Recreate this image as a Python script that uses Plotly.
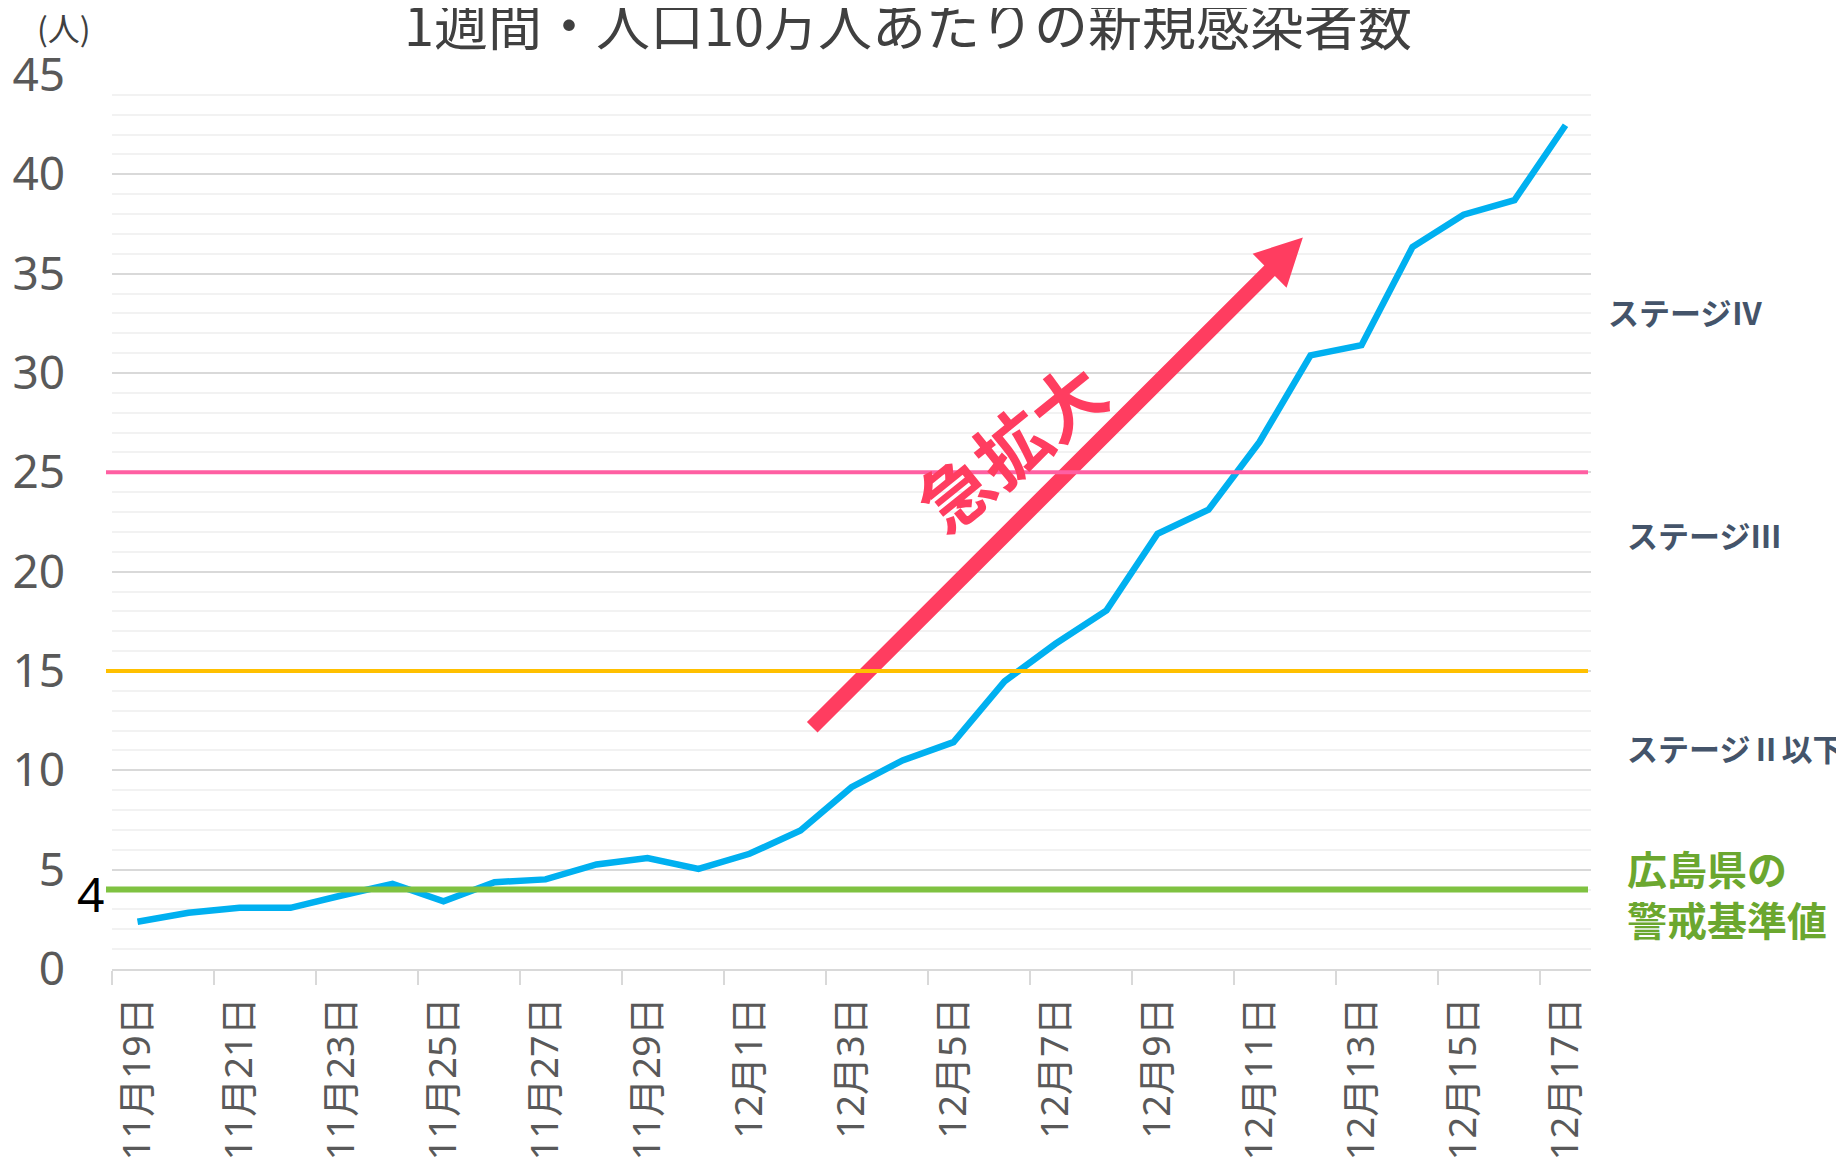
import math
import plotly.graph_objects as go

# ---------------- data ----------------
dates = ["11月19日", "11月20日", "11月21日", "11月22日", "11月23日", "11月24日",
         "11月25日", "11月26日", "11月27日", "11月28日", "11月29日", "11月30日",
         "12月1日", "12月2日", "12月3日", "12月4日", "12月5日", "12月6日",
         "12月7日", "12月8日", "12月9日", "12月10日", "12月11日", "12月12日",
         "12月13日", "12月14日", "12月15日", "12月16日", "12月17日"]
cases_per_100k = [2.38, 2.83, 3.08, 3.08, 3.70, 4.29, 3.41, 4.37, 4.51, 5.26,
                  5.58, 5.04, 5.80, 6.97, 9.15, 10.50, 11.42, 14.48, 16.37, 18.05,
                  21.91, 23.12, 26.53, 30.89, 31.40, 36.34, 37.97, 38.70, 42.47]
y_ticks = [0, 5, 10, 15, 20, 25, 30, 35, 40, 45]
thresholds = [25, 15, 4]
threshold_colors = ["#FF5FA2", "#FFC000", "#7FC241"]
threshold_widths = [4, 4, 6]
stage_labels = ["ステージⅣ", "ステージⅢ", "ステージⅡ以下"]
alert_labels = ["広島県の", "警戒基準値"]
title_text = "1週間・人口10万人あたりの新規感染者数"
arrow_text = "急拡大"
# arrow from (category index, value) to (category index, value)
arrow_start = (13.23, 12.17)
arrow_end = (22.85, 36.82)

# ---------------- layout geometry ----------------
OFF = 8                      # page body margin of the html page
W, H = 1844 - OFF, 1162 - OFF
L, R, T, B = 104, 253, 67, 193
PW, PH = W - L - R, H - T - B
X_RANGE = [-0.5, len(dates) - 0.5]
Y_RANGE = [0, 45]


def d2px(x, y):
    px = L + (x - X_RANGE[0]) / (X_RANGE[1] - X_RANGE[0]) * PW
    py = T + (Y_RANGE[1] - y) / (Y_RANGE[1] - Y_RANGE[0]) * PH
    return px, py


def px2d(px, py):
    x = X_RANGE[0] + (px - L) / PW * (X_RANGE[1] - X_RANGE[0])
    y = Y_RANGE[1] - (py - T) / PH * (Y_RANGE[1] - Y_RANGE[0])
    return x, y


def pxx(sx):   # screen x -> paper
    return (sx - OFF - L) / PW


def pxy(sy):   # screen y -> paper
    return (H - B - (sy - OFF)) / PH


x_idx = list(range(len(dates)))

fig = go.Figure()
fig.add_trace(go.Scatter(
    x=x_idx, y=cases_per_100k, mode="lines",
    line=dict(color="#00B0F0", width=6.5),
    hoverinfo="skip", showlegend=False,
))

# ---------------- arrow polygon (pixel geometry -> data coords) ----------------
ARROW_COLOR = "#FF3D60"
p0 = d2px(*arrow_start)
p1 = d2px(*arrow_end)
dx, dy = p1[0] - p0[0], p1[1] - p0[1]
ln = math.hypot(dx, dy)
ux, uy = dx / ln, dy / ln
nx, ny = -uy, ux
shaft_hw, head_len, head_hw = 7.5, 47, 24
base = (p1[0] - ux * head_len, p1[1] - uy * head_len)
pts_px = [
    (p0[0] + nx * shaft_hw, p0[1] + ny * shaft_hw),
    (base[0] + nx * shaft_hw, base[1] + ny * shaft_hw),
    (base[0] + nx * head_hw, base[1] + ny * head_hw),
    p1,
    (base[0] - nx * head_hw, base[1] - ny * head_hw),
    (base[0] - nx * shaft_hw, base[1] - ny * shaft_hw),
    (p0[0] - nx * shaft_hw, p0[1] - ny * shaft_hw),
]
pts = [px2d(*p) for p in pts_px]
path = "M " + " L ".join(f"{x:.4f},{y:.4f}" for x, y in pts) + " Z"
fig.add_shape(type="path", path=path, xref="x", yref="y",
              fillcolor=ARROW_COLOR, line=dict(width=0), layer="above")

# ---------------- threshold lines ----------------
for v, c, w in zip(thresholds, threshold_colors, threshold_widths):
    fig.add_shape(type="line", xref="paper", yref="y",
                  x0=pxx(106), x1=pxx(1588), y0=v, y1=v,
                  line=dict(color=c, width=w), layer="above")

annotations = []
# unit label
annotations.append(dict(text="(人)", xref="paper", yref="paper",
                        x=pxx(64), y=pxy(27), xanchor="center", yanchor="middle",
                        showarrow=False,
                        font=dict(family="Noto Sans CJK JP", size=32, color="#404040")))
# "4" label
annotations.append(dict(text="4", xref="paper", yref="y",
                        x=pxx(106), y=thresholds[2], xanchor="right", yanchor="middle",
                        yshift=-4, showarrow=False,
                        font=dict(family="Noto Sans", size=48, color="#000000")))
# stage labels
stage_pos = [(1606, 311), (1625, 534), (1625, 747)]
for txt, (px, py) in zip(stage_labels, stage_pos):
    annotations.append(dict(text="<b>" + txt + "</b>", xref="paper", yref="paper",
                            x=pxx(px), y=pxy(py), xanchor="left", yanchor="middle",
                            showarrow=False,
                            font=dict(family="Noto Sans CJK JP", size=31, color="#44546A")))
for txt, py in zip(alert_labels, [868, 919]):
    annotations.append(dict(text="<b>" + txt + "</b>", xref="paper", yref="paper",
                            x=pxx(1625), y=pxy(py), xanchor="left", yanchor="middle",
                            showarrow=False,
                            font=dict(family="Noto Sans CJK JP", size=40, color="#6BA72F")))
# arrow text
tx, ty = px2d(1009 - OFF, 444 - OFF)
annotations.append(dict(text="<b>" + arrow_text + "</b>", xref="x", yref="y",
                        x=tx, y=ty, xanchor="center", yanchor="middle",
                        textangle=-39, showarrow=False,
                        font=dict(family="Noto Sans CJK JP", size=72, color=ARROW_COLOR)))

fig.update_layout(
    width=W, height=H, autosize=False,
    margin=dict(l=L, r=R, t=T, b=B, autoexpand=False),
    paper_bgcolor="white", plot_bgcolor="white",
    title=dict(text=title_text, x=(908 - OFF) / W, xanchor="center",
               y=1 - (27 - OFF) / H, yanchor="middle", yref="container",
               font=dict(family="Noto Sans CJK JP", size=54, color="#404040")),
    annotations=annotations,
    showlegend=False,
)

fig.update_xaxes(
    range=X_RANGE, tickmode="array", tickvals=x_idx[::2], ticktext=dates[::2],
    tickangle=-90, ticks="", showgrid=False, zeroline=False, automargin=False,
    showline=True, linecolor="#D9D9D9", linewidth=2,
    tickfont=dict(family="Noto Sans, Noto Sans CJK JP", size=38, color="#595959"),
    ticklabelstandoff=11,
    minor=dict(tickmode="array", tickvals=[i - 0.5 for i in x_idx[::2]],
               ticks="outside", ticklen=14, tickwidth=2, tickcolor="#D9D9D9",
               showgrid=False),
    fixedrange=True,
)
fig.update_yaxes(
    range=Y_RANGE, tickmode="array", tickvals=y_ticks, ticks="",
    showgrid=True, gridcolor="#D9D9D9", gridwidth=2, automargin=False,
    zeroline=False, showline=False,
    tickfont=dict(family="Noto Sans", size=46, color="#595959"),
    ticklabelstandoff=46,
    minor=dict(dtick=1, tick0=0, showgrid=True, gridcolor="#F2F2F2", gridwidth=2),
    fixedrange=True,
)

fig.write_html("out.html")
